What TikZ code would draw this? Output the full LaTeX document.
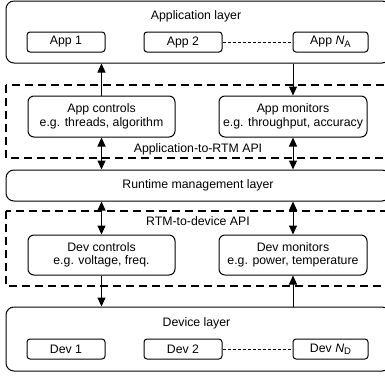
\documentclass[tikz,border=0pt]{standalone}
\usepackage{fontspec}
\setmainfont{Liberation Sans}
\usetikzlibrary{arrows.meta}

\newcommand{\lowsub}[1]{\raisebox{-0.35ex}{\fontsize{9.5}{9.5}\selectfont #1}}

\tikzset{
  layer/.style={draw, line width=1pt, rounded corners=8pt, minimum width=384pt, inner sep=0pt},
  unit/.style={draw, line width=1pt, rounded corners=3pt, minimum height=20pt, inner sep=0pt},
  block/.style={draw, line width=1pt, rounded corners=6pt, minimum width=147pt, minimum height=41pt, inner sep=0pt, align=center},
  api/.style={line width=2pt, dash pattern=on 8pt off 5pt},
  link/.style={line width=1pt, -{Triangle[width=8pt,length=9pt]}},
  twoway/.style={line width=1pt, {Triangle[width=8pt,length=9pt]}-{Triangle[width=8pt,length=9pt]}},
  more/.style={line width=0.8pt, dash pattern=on 3pt off 2pt}
}

\begin{document}
\begin{tikzpicture}[x=1pt, y=-1pt, font=\fontsize{12.3}{13.5}\selectfont]
  \clip (0,0) rectangle (385,378);

  % API regions
  \draw[api] (6,85) rectangle (395,158);
  \draw[api] (6,211) rectangle (395,286);

  % Define nodes
  \node[layer, minimum height=62pt] (applayer) at (198,32) {};
  \node (apptitle) at (196,16) {Application layer};
  \node[unit, minimum width=78pt] (app1) at (66,42) {App 1};
  \node[unit, minimum width=78pt] (app2) at (183,42) {App 2};
  \node[unit, minimum width=75pt] (appn) at (330.5,42) {App \textit{N}\lowsub{A}};

  \node[block] (appctl) at (101.5,116.5) {App controls\\e.g. threads, algorithm};
  \node[block, minimum width=148pt] (appmon) at (293,116.5) {App monitors\\e.g. throughput, accuracy};
  \node (appapi) at (198,149) {Application-to-RTM API};

  \node[layer, minimum height=31pt] (rtm) at (198,185.5) {Runtime management layer};

  \node (devapi) at (198,221) {RTM-to-device API};
  \node[block, minimum height=40pt] (devctl) at (101.5,255) {Dev controls\\e.g. voltage, freq.};
  \node[block, minimum width=148pt, minimum height=40pt] (devmon) at (293,255) {Dev monitors\\e.g. power, temperature};

  \node[layer, minimum height=64pt] (devlayer) at (198,339) {};
  \node (devtitle) at (196.5,323) {Device layer};
  \node[unit, minimum width=78pt] (dev1) at (66,349) {Dev 1};
  \node[unit, minimum width=78pt] (dev2) at (183,349) {Dev 2};
  \node[unit, minimum width=75pt] (devn) at (330.5,349) {Dev \textit{N}\lowsub{D}};

  % Connect the nodes
  \draw[more] (app2) -- (appn);
  \draw[more] (dev2) -- (devn);
  \draw[link] (appctl.north) -- (appctl.north |- applayer.south);
  \draw[link] (appmon.north |- applayer.south) -- (appmon.north);
  \draw[twoway] (appctl.south) -- (appctl.south |- rtm.north);
  \draw[twoway] (appmon.south) -- (appmon.south |- rtm.north);
  \draw[twoway] (devctl.north |- rtm.south) -- (devctl.north);
  \draw[twoway] (devmon.north |- rtm.south) -- (devmon.north);
  \draw[link] (devctl.south) -- (devctl.south |- devlayer.north);
  \draw[link] (devmon.south |- devlayer.north) -- (devmon.south);

\end{tikzpicture}
\end{document}
